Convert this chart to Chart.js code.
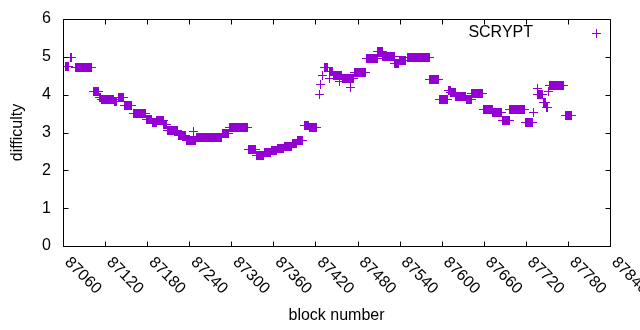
<!DOCTYPE html>
<html><head><meta charset="utf-8">
<script src="https://cdn.jsdelivr.net/npm/chart.js@4.4.0/dist/chart.umd.min.js"></script>
<style>html,body{margin:0;padding:0;background:#fff}#wrap{width:640px;height:330px}</style>
</head><body><div id="wrap"><canvas id="c" width="640" height="330"></canvas></div>
<script>
const seriesName = "SCRYPT";
const xTitle = "block number";
const yTitle = "difficulty";
const xTicks = [87060,87120,87180,87240,87300,87360,87420,87480,87540,87600,87660,87720,87780,87840];
const yTicks = [0,1,2,3,4,5,6];

// runs of consecutive blocks sharing the same difficulty
const runStart = [87064,87071,87078,87103,87112,87115,87133,87139,87148,87160,87179,87187,87194,87204,87209,87224,87236,87251,87287,87297,87324,87336,87347,87357,87366,87376,87387,87394,87404,87411,87433,87440,87446,87458,87476,87493,87509,87516,87533,87540,87551,87583,87597,87609,87613,87620,87635,87643,87659,87673,87686,87697,87719,87737,87745,87749,87754,87776];
const runEnd   = [87068,87072,87101,87110,87114,87132,87137,87146,87158,87177,87186,87193,87203,87208,87223,87235,87249,87286,87296,87323,87335,87346,87356,87365,87375,87386,87393,87402,87410,87422,87437,87445,87457,87474,87492,87508,87515,87532,87539,87549,87582,87596,87608,87612,87619,87634,87642,87658,87672,87685,87696,87718,87730,87744,87748,87751,87774,87785];
const runValue = [4.75,4.98,4.72,4.08,3.92,3.88,3.82,3.92,3.72,3.50,3.35,3.27,3.32,3.20,3.05,2.92,2.78,2.88,2.98,3.13,2.55,2.40,2.47,2.52,2.58,2.62,2.70,2.80,3.18,3.12,4.72,4.62,4.50,4.42,4.58,4.95,5.13,5.00,4.82,4.90,4.97,4.40,3.88,4.12,4.05,3.95,3.87,4.03,3.60,3.52,3.33,3.62,3.27,4.00,3.80,3.65,4.25,3.45];
// isolated blocks
const singleBlock = [87246,87426,87427,87430,87440,87454,87470,87731,87736,87753];
const singleValue = [3.02,4.00,4.27,4.50,4.42,4.35,4.20,3.52,4.15,4.08];

const points = [];
for (let i = 0; i < runStart.length; i++) {
  for (let b = runStart[i]; b <= runEnd[i]; b++) points.push({x: b, y: runValue[i]});
}
for (let i = 0; i < singleBlock.length; i++) points.push({x: singleBlock[i], y: singleValue[i]});

const COLOR = '#9400d3';
const FONT = '16px "Liberation Sans", Arial, sans-serif';

// crisp gnuplot-like "+" marker
const plus = document.createElement('canvas');
plus.width = 9; plus.height = 9;
(function(){
  const g = plus.getContext('2d');
  g.fillStyle = COLOR;
  g.fillRect(0, 4, 9, 1);
  g.fillRect(4, 0, 1, 9);
})();

const gnuplotFrame = {
  id: 'gnuplotFrame',
  beforeDatasetsDraw(chart) { chart.ctx.save(); chart.ctx.imageSmoothingEnabled = false; },
  afterDatasetsDraw(chart) { chart.ctx.restore(); },
  afterDraw(chart) {
    const ctx = chart.ctx, a = chart.chartArea;
    const xs = chart.scales.x, ys = chart.scales.y;
    const L = Math.round(a.left) + 0.5, R = Math.round(a.right) + 0.5;
    const T = Math.round(a.top) + 0.5, B = Math.round(a.bottom) + 0.5;
    ctx.save();
    ctx.strokeStyle = '#000'; ctx.lineWidth = 1;
    ctx.beginPath();
    ctx.rect(L, T, R - L, B - T);
    const tl = 5;
    xTicks.forEach(v => {
      const p = Math.round(xs.getPixelForValue(v)) + 0.5;
      ctx.moveTo(p, B); ctx.lineTo(p, B - tl);
      ctx.moveTo(p, T); ctx.lineTo(p, T + tl);
    });
    yTicks.forEach(v => {
      const p = Math.round(ys.getPixelForValue(v)) + 0.5;
      ctx.moveTo(L, p); ctx.lineTo(L + tl, p);
      ctx.moveTo(R, p); ctx.lineTo(R - tl, p);
    });
    ctx.stroke();
    ctx.fillStyle = '#000';
    ctx.font = FONT;
    xTicks.forEach(v => {
      const p = xs.getPixelForValue(v);
      ctx.save();
      ctx.translate(p + 1, a.bottom + 17);
      ctx.rotate(Math.PI / 4);
      ctx.textAlign = 'left'; ctx.textBaseline = 'alphabetic';
      ctx.fillText(String(v), 0, 0);
      ctx.restore();
    });
    yTicks.forEach(v => {
      const p = ys.getPixelForValue(v);
      ctx.textAlign = 'right'; ctx.textBaseline = 'middle';
      ctx.fillText(String(v), a.left - 12, p);
    });
    ctx.textAlign = 'center'; ctx.textBaseline = 'middle';
    ctx.fillText(xTitle, (a.left + a.right) / 2, 316);
    ctx.save();
    ctx.translate(18, (a.top + a.bottom) / 2);
    ctx.rotate(-Math.PI / 2);
    ctx.fillText(yTitle, 0, 0);
    ctx.restore();
    ctx.textAlign = 'right';
    ctx.fillText(chart.data.datasets[0].label, 533, 33);
    ctx.drawImage(plus, 592, 29);
    ctx.restore();
  }
};

new Chart(document.getElementById('c'), {
  type: 'scatter',
  data: { datasets: [{
    label: seriesName,
    data: points,
    pointStyle: plus,
    pointRadius: 4.5,
    pointHoverRadius: 4.5,
    borderWidth: 1,
    borderColor: COLOR,
    backgroundColor: COLOR,
    showLine: false
  }]},
  options: {
    responsive: false,
    animation: false,
    devicePixelRatio: 1,
    layout: { padding: { top: 19, right: 30, left: 0, bottom: 0 } },
    plugins: { legend: { display: false }, tooltip: { enabled: false } },
    scales: {
      x: {
        type: 'linear', min: xTicks[0], max: xTicks[xTicks.length - 1],
        ticks: { display: false, stepSize: 60 },
        grid: { display: false }, border: { display: false },
        afterFit(s) { s.height = 84; }
      },
      y: {
        type: 'linear', min: yTicks[0], max: yTicks[yTicks.length - 1],
        ticks: { display: false, stepSize: 1 },
        grid: { display: false }, border: { display: false },
        afterFit(s) { s.width = 63; }
      }
    }
  },
  plugins: [gnuplotFrame]
});
</script>
</body></html>
